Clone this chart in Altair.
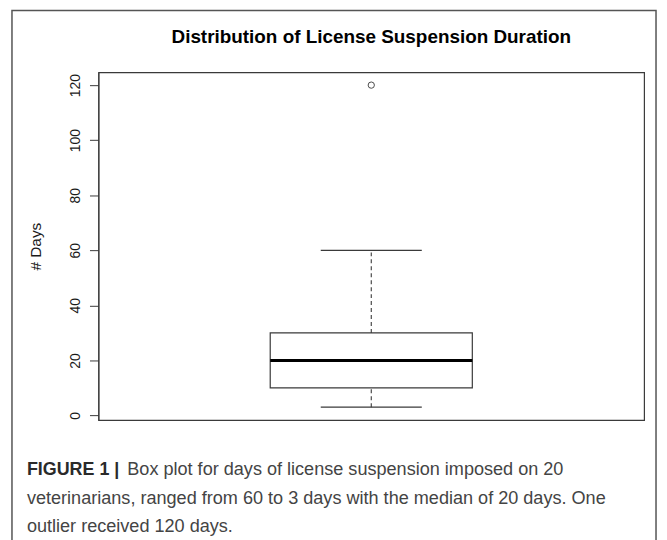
import altair as alt
import pandas as pd

# ---- data ----
title_text = "Distribution of License Suspension Duration"
y_label = "# Days"
y_ticks = [0, 20, 40, 60, 80, 100, 120]
stat_names = ["low", "q1", "median", "q3", "high"]
stat_values = [3, 10, 20, 30, 60]
outlier_values = [120]
caption_bold = "FIGURE 1 |"
caption_lines = [
    "Box plot for days of license suspension imposed on 20",
    "veterinarians, ranged from 60 to 3 days with the median of 20 days. One",
    "outlier received 120 days.",
]

# ---- tables ----
stats = dict(zip(stat_names, stat_values))
box_df = pd.DataFrame([{"pos": 1, **stats}])
out_df = pd.DataFrame({"pos": [1] * len(outlier_values), "value": outlier_values})

FONT = "Liberation Sans"
LINE = "#3a3a3a"

xscale = alt.Scale(domain=[0.46, 1.54])
yscale = alt.Scale(domain=[-1.68, 124.68], nice=False, zero=False)

base = alt.Chart(box_df).transform_calculate(
    bl="datum.pos - 0.2", br="datum.pos + 0.2",
    cl="datum.pos - 0.1", cr="datum.pos + 0.1",
)

box = base.mark_rect(fill="white", stroke=LINE, strokeWidth=1.2).encode(
    x=alt.X("bl:Q", scale=xscale, axis=None),
    x2="br:Q",
    y=alt.Y("q1:Q", scale=yscale, title=y_label,
            axis=alt.Axis(values=y_ticks, title=y_label, labelFontSize=14)),
    y2="q3:Q",
)

def Y(field):
    return alt.Y(field, scale=yscale, title=y_label)

def X(field):
    return alt.X(field, scale=xscale, axis=None)

whisk_hi = base.mark_rule(color=LINE, strokeWidth=1.1, strokeDash=[4, 3]).encode(
    x=X("pos:Q"), y=Y("q3:Q"), y2="high:Q"
)
whisk_lo = base.mark_rule(color=LINE, strokeWidth=1.1, strokeDash=[4, 3]).encode(
    x=X("pos:Q"), y=Y("low:Q"), y2="q1:Q"
)
cap_hi = base.mark_rule(color=LINE, strokeWidth=1.2).encode(
    x=X("cl:Q"), x2="cr:Q", y=Y("high:Q")
)
cap_lo = base.mark_rule(color=LINE, strokeWidth=1.2).encode(
    x=X("cl:Q"), x2="cr:Q", y=Y("low:Q")
)
median = base.mark_rule(color="black", strokeWidth=3).encode(
    x=X("bl:Q"), x2="br:Q", y=Y("median:Q")
)
outl = alt.Chart(out_df).mark_point(
    shape="circle", filled=False, size=40, color="black", strokeWidth=1
).encode(x=X("pos:Q"), y=Y("value:Q"))

# ---- frame and texts ----
frame = alt.Chart(pd.DataFrame({"k": [0]})).mark_rect(
    fill="white", fillOpacity=0, stroke="#555", strokeWidth=1.5
).encode(x=alt.value(-87), x2=alt.value(561), y=alt.value(-62), y2=alt.value(490))

title = alt.Chart(pd.DataFrame({"t": [title_text]})).mark_text(
    font=FONT, fontSize=19, fontWeight="bold", color="black",
    align="center", baseline="alphabetic",
).encode(text="t:N", x=alt.value(274.5), y=alt.value(-29.3))

cap_b = alt.Chart(pd.DataFrame({"t": [caption_bold]})).mark_text(
    font=FONT, fontSize=18, fontWeight="bold", color="#2a2a2a",
    align="left", baseline="alphabetic",
).encode(text="t:N", x=alt.value(-72), y=alt.value(405))

cap_1 = alt.Chart(pd.DataFrame({"t": [caption_lines[0]]})).mark_text(
    font=FONT, fontSize=18.2, color="#444", align="left", baseline="alphabetic",
).encode(text="t:N", x=alt.value(29), y=alt.value(405))

cap_rest = alt.Chart(pd.DataFrame({"t": ["\n".join(caption_lines[1:])]})).mark_text(
    font=FONT, fontSize=18.2, color="#444", align="left", baseline="alphabetic",
    lineBreak="\n", lineHeight=28.5,
).encode(text="t:N", x=alt.value(-72), y=alt.value(434))

chart = alt.layer(
    frame, box, whisk_hi, whisk_lo, cap_hi, cap_lo, median, outl,
    title, cap_b, cap_1, cap_rest,
).properties(
    width=549, height=350,
    autosize=alt.AutoSizeParams(type="none"),
    padding={"left": 91, "top": 63, "right": 15, "bottom": 119},
    background="white",
).configure_view(
    stroke=LINE, strokeWidth=1.2
).configure_axisY(
    labelAngle=270,
    tickSize=9,
    tickColor=LINE,
    domainColor=LINE,
    labelFont=FONT,
    labelFontSize=14,
    labelColor="#1a1a1a",
    labelPadding=7,
    titleFont=FONT,
    titleFontSize=15.5,
    titleFontWeight="normal",
    titleColor="#1a1a1a",
    titleAngle=270,
    titlePadding=25,
    grid=False,
)

chart.save("out.html", embed_options={"renderer": "svg", "actions": False})
